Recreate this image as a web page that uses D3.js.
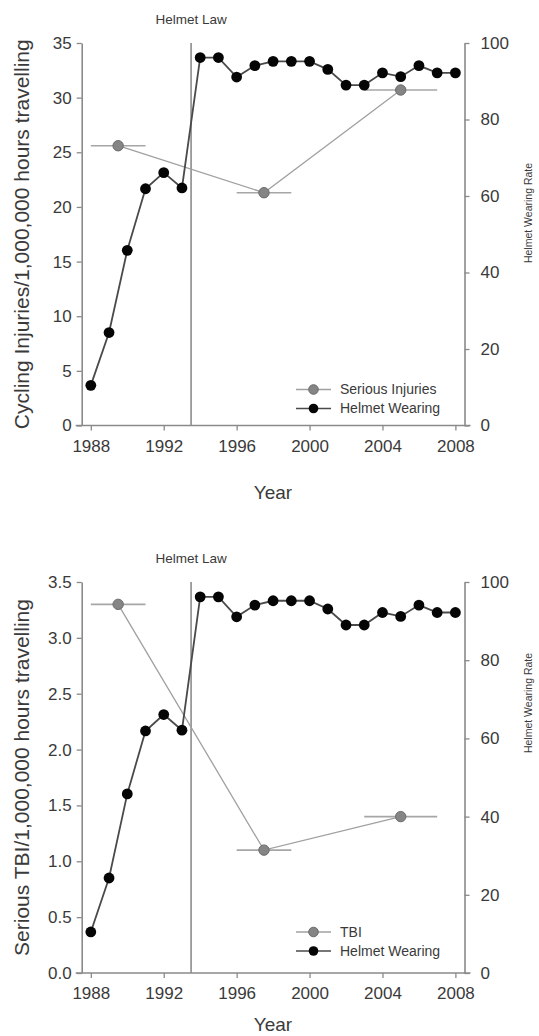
<!DOCTYPE html>
<html>
<head>
<meta charset="utf-8">
<script src="https://cdn.jsdelivr.net/npm/d3@7"></script>
<style>
  body { margin: 0; background: #fff; }
  svg { display: block; font-family: "Liberation Sans", Arial, sans-serif; }
</style>
</head>
<body>
<div id="chart"></div>
<script>
// helmet wearing rate (%), one value a year
var years = [1988, 1989, 1990, 1991, 1992, 1993, 1994, 1995, 1996, 1997, 1998,
  1999, 2000, 2001, 2002, 2003, 2004, 2005, 2006, 2007, 2008];
var helmetRate = [10.5, 24.3, 45.8, 61.9, 66.1, 62.1, 96.2, 96.2, 91.1, 94.1, 95.2,
  95.2, 95.2, 93.1, 89.0, 89.0, 92.2, 91.2, 94.1, 92.2, 92.2];

// period estimates (mid year + range)
var periodMid = [1989.5, 1997.5, 2005];
var periodFrom = [1988, 1996, 2003];
var periodTo = [1991, 1999, 2007];
var seriousInjuries = [25.6, 21.3, 30.7];
var tbi = [3.30, 1.10, 1.40];

var yearTicks = [1988, 1992, 1996, 2000, 2004, 2008];
var injuryTicks = [0, 5, 10, 15, 20, 25, 30, 35];
var tbiTicks = [0, 0.5, 1.0, 1.5, 2.0, 2.5, 3.0, 3.5];
var rateTicks = [0, 20, 40, 60, 80, 100];
var lawYear = 1993.5;

var W = 539, H = 1036;
var svg = d3.select("#chart").append("svg").attr("width", W).attr("height", H);

var axisCol = "#8a8a8a", textCol = "#3a3a3a";

var x = d3.scaleLinear().domain([1987.5, 2008.5]).range([81.7, 464.5]);

function drawPanel(opt) {
  var g = svg.append("g");
  var yL = d3.scaleLinear().domain([opt.ticks[0], opt.ticks[opt.ticks.length - 1]]).range([opt.bottom, opt.top]);
  var yR = d3.scaleLinear().domain([0, 100]).range([opt.bottom, opt.top]);

  // axes
  var xAxis = g.append("g").attr("transform", `translate(0,${opt.bottom})`)
    .call(d3.axisBottom(x).tickValues(yearTicks).tickFormat(d3.format("d")).tickSize(5).tickPadding(9).tickSizeOuter(0));
  var lAxis = g.append("g").attr("transform", `translate(${x.range()[0]},0)`)
    .call(d3.axisLeft(yL).tickValues(opt.ticks).tickFormat(opt.fmt).tickSize(5).tickPadding(5).tickSizeOuter(0));
  var rAxis = g.append("g").attr("transform", `translate(${x.range()[1]},0)`)
    .call(d3.axisRight(yR).tickValues(rateTicks).tickSize(5).tickPadding(11).tickSizeOuter(0));
  [xAxis, lAxis, rAxis].forEach(function (a) {
    a.attr("font-family", null).attr("font-size", null);
    a.select(".domain").attr("stroke", axisCol).attr("stroke-width", 1.6);
    a.selectAll(".tick line").attr("stroke", axisCol).attr("stroke-width", 1.3);
    a.selectAll(".tick text").attr("fill", textCol).style("font-size", "17px");
  });
  xAxis.select(".domain").attr("d", `M${x.range()[0] - 6},0H${x.range()[1] + 6}`);

  // helmet law line
  g.append("line")
    .attr("x1", x(lawYear)).attr("x2", x(lawYear))
    .attr("y1", opt.top).attr("y2", opt.bottom)
    .attr("stroke", "#8c8c8c").attr("stroke-width", 1.6);
  g.append("text")
    .attr("x", x(lawYear)).attr("y", opt.top - 19)
    .attr("text-anchor", "middle").attr("fill", textCol)
    .style("font-size", "13.5px")
    .text("Helmet Law");

  // period estimates with horizontal range bars
  var pts = periodMid.map(function (m, i) {
    return { mid: m, from: periodFrom[i], to: periodTo[i], v: opt.values[i] };
  });
  g.selectAll(".err").data(pts).enter().append("line")
    .attr("x1", d => x(d.from)).attr("x2", d => x(d.to))
    .attr("y1", d => yL(d.v)).attr("y2", d => yL(d.v))
    .attr("stroke", "#a6a6a6").attr("stroke-width", 1.6);
  g.append("path")
    .datum(pts)
    .attr("fill", "none").attr("stroke", "#a0a0a0").attr("stroke-width", 1.3)
    .attr("d", d3.line().x(d => x(d.mid)).y(d => yL(d.v)));
  g.selectAll(".pt").data(pts).enter().append("circle")
    .attr("cx", d => x(d.mid)).attr("cy", d => yL(d.v)).attr("r", 5.2)
    .attr("fill", "#858585").attr("stroke", "#6a6a6a").attr("stroke-width", 1);

  // helmet wearing
  var rate = years.map(function (yr, i) { return { yr: yr, v: helmetRate[i] }; });
  g.append("path")
    .datum(rate)
    .attr("fill", "none").attr("stroke", "#4a4a4a").attr("stroke-width", 1.8)
    .attr("d", d3.line().x(d => x(d.yr)).y(d => yR(d.v)));
  g.selectAll(".hw").data(rate).enter().append("circle")
    .attr("cx", d => x(d.yr)).attr("cy", d => yR(d.v)).attr("r", 5.4)
    .attr("fill", "#050505");

  // titles
  g.append("text")
    .attr("transform", `translate(${opt.titleX},${(opt.top + opt.bottom) / 2}) rotate(-90)`)
    .attr("text-anchor", "middle").attr("dy", "0.35em").attr("fill", textCol)
    .style("font-size", "21px")
    .text(opt.title);
  g.append("text")
    .attr("transform", `translate(528,${opt.rateY}) rotate(-90)`)
    .attr("text-anchor", "middle").attr("dy", "0.35em").attr("fill", textCol)
    .style("font-size", "10.5px")
    .text("Helmet Wearing Rate");
  g.append("text")
    .attr("x", 273).attr("y", opt.bottom + opt.yearDy)
    .attr("text-anchor", "middle").attr("fill", textCol)
    .style("font-size", "19px")
    .text("Year");

  // legend
  var legend = [
    { name: opt.name, fill: "#858585", line: "#a0a0a0", stroke: "#6a6a6a" },
    { name: "Helmet Wearing", fill: "#050505", line: "#4a4a4a", stroke: "none" }
  ];
  var lg = g.selectAll(".lg").data(legend).enter().append("g")
    .attr("transform", (d, i) => `translate(0,${opt.bottom - opt.legendDy + i * 19})`);
  lg.append("line").attr("x1", 296).attr("x2", 331)
    .attr("stroke", d => d.line).attr("stroke-width", 1.6);
  lg.append("circle").attr("cx", 313.5).attr("r", 4.8)
    .attr("fill", d => d.fill).attr("stroke", d => d.stroke);
  lg.append("text").attr("x", 340).attr("dy", "0.35em")
    .attr("fill", textCol).style("font-size", "14px")
    .text(d => d.name);
}

drawPanel({
  top: 43, bottom: 425.5, ticks: injuryTicks, fmt: d3.format("d"),
  values: seriousInjuries, name: "Serious Injuries",
  title: "Cycling Injuries/1,000,000 hours travelling", titleX: 22,
  rateY: 213, yearDy: 73, legendDy: 36
});
drawPanel({
  top: 582, bottom: 973, ticks: tbiTicks, fmt: d3.format(".1f"),
  values: tbi, name: "TBI",
  title: "Serious TBI/1,000,000 hours travelling", titleX: 22,
  rateY: 703, yearDy: 58, legendDy: 41
});
</script>
</body>
</html>
